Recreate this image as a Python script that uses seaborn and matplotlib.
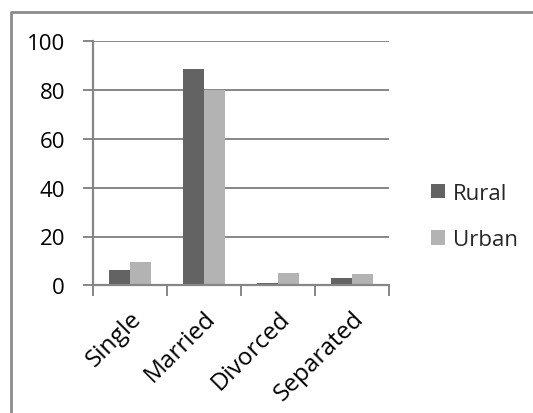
import matplotlib
matplotlib.use("Agg")
import matplotlib.pyplot as plt
from matplotlib.lines import Line2D
import seaborn as sns
import pandas as pd

# Marital status by place of residence (%)
categories = ["Single", "Married", "Divorced", "Separated"]
rural = [6.4, 88.6, 0.9, 3.1]
urban = [9.5, 80.0, 5.0, 4.6]
series = ["Rural", "Urban"]
colors = ["#636363", "#b3b3b3"]
y_ticks = [0, 20, 40, 60, 80, 100]

df = pd.DataFrame({
    "status": categories * 2,
    "value": rural + urban,
    "area": ["Rural"] * len(categories) + ["Urban"] * len(categories),
})

sns.set_style("white")
plt.rcParams["font.family"] = ["Open Sans", "DejaVu Sans"]

W, H = 533, 414
fig = plt.figure(figsize=(W / 100, H / 100), dpi=100)
ax = fig.add_axes([92.7 / W, 1 - 286.3 / H, (389.3 - 92.7) / W, (286.3 - 42.3) / H])

sns.barplot(data=df, x="status", y="value", hue="area", order=categories,
            hue_order=series, palette=colors, width=0.57, gap=0,
            saturation=1, linewidth=0, ax=ax, legend=True)

grid_col = "#868686"
ax.set_ylim(0, 100)
ax.set_xlim(-0.5, len(categories) - 0.5)
ax.set_yticks(y_ticks)
ax.set_yticklabels([str(t) for t in y_ticks], fontsize=16, color="#000000")
ax.yaxis.grid(True, color=grid_col, linewidth=1.4)
ax.set_axisbelow(True)
ax.tick_params(axis="y", length=7, width=1.4, color=grid_col, pad=13, direction="out", left=True)

# category labels at centres, separators at the category boundaries
ax.set_xticks(range(len(categories)))
ax.set_xticklabels(categories, rotation=45, ha="right", rotation_mode="anchor",
                   fontsize=17.5, color="#000000")
ax.tick_params(axis="x", which="major", length=0, pad=15)
ax.set_xticks([i - 0.5 for i in range(len(categories) + 1)], minor=True)
ax.tick_params(axis="x", which="minor", length=8, width=1.4, color=grid_col,
               direction="out", bottom=True)

ax.set_xlabel("")
ax.set_ylabel("")
for side in ["top", "right"]:
    ax.spines[side].set_visible(False)
for side in ["left", "bottom"]:
    ax.spines[side].set_visible(True)
    ax.spines[side].set_color(grid_col)
    ax.spines[side].set_linewidth(1.6)

handles, labels = ax.get_legend_handles_labels()
ax.legend(handles, labels, loc="center left", bbox_to_anchor=(431 / W, 1 - 217.5 / H),
          bbox_transform=fig.transFigure, frameon=False, fontsize=16,
          handlelength=0.65, handleheight=0.65, handletextpad=0.35, labelspacing=1.15,
          borderpad=0, borderaxespad=0)

# chart frame
bc = "#8c8c8c"
fig.add_artist(Line2D([10.5 / W, 10.5 / W, 1.0], [0.0, 1 - 13 / H, 1 - 13 / H],
                      transform=fig.transFigure, color=bc, linewidth=2.0))

fig.savefig("out.png", dpi=100)
